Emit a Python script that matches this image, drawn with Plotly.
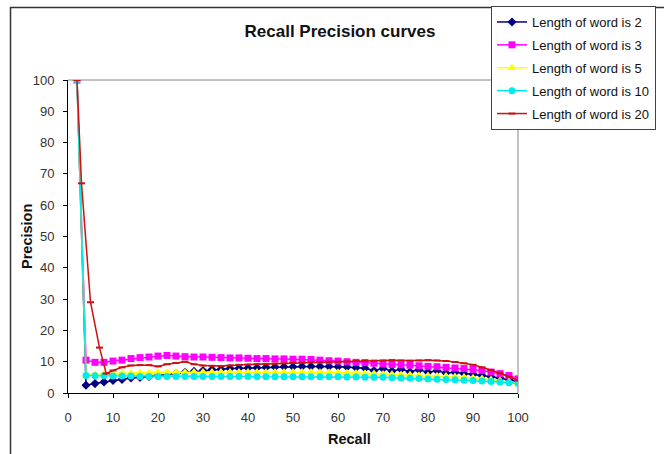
import plotly.graph_objects as go

recall = [2, 4, 6, 8, 10, 12, 14, 16, 18, 20, 22, 24, 26, 28, 30, 32, 34, 36, 38, 40,
          42, 44, 46, 48, 50, 52, 54, 56, 58, 60, 62, 64, 66, 68, 70, 72, 74, 76, 78, 80,
          82, 84, 86, 88, 90, 92, 94, 96, 98, 100]

prec_len2 = [100, 2.5, 3.0, 3.5, 4.0, 4.3, 4.8, 5.0, 5.3, 5.6, 6.0, 6.3, 6.6, 6.9, 7.2, 7.5, 7.6, 7.8, 7.9, 8.0,
             8.1, 8.2, 8.3, 8.4, 8.4, 8.5, 8.5, 8.5, 8.5, 8.4, 8.3, 8.1, 7.9, 7.2, 7.8, 7.0, 7.6, 6.8, 7.4, 6.6,
             7.1, 6.4, 6.6, 6.2, 6.0, 5.6, 5.2, 4.8, 4.2, 3.5]

prec_len3 = [100, 10.5, 9.8, 9.8, 10.2, 10.5, 11.0, 11.3, 11.5, 11.8, 12.0, 11.8, 11.6, 11.5, 11.5, 11.4, 11.3, 11.2, 11.2, 11.1,
             11.0, 11.0, 10.9, 10.9, 10.8, 10.8, 10.7, 10.5, 10.3, 10.2, 10.0, 9.8, 9.7, 9.5, 9.3, 9.1, 9.0, 8.9, 8.7, 8.5,
             8.4, 8.2, 8.0, 7.8, 7.5, 7.2, 6.7, 6.2, 5.6, 4.5]

prec_len5 = [100, 5.8, 6.0, 6.2, 6.2, 6.3, 6.4, 6.5, 6.5, 6.6, 6.6, 6.6, 6.6, 6.7, 6.7, 6.7, 6.7, 6.7, 6.7, 6.7,
             6.7, 6.7, 6.7, 6.7, 6.7, 6.7, 6.7, 6.6, 6.6, 6.6, 6.5, 6.4, 6.3, 6.2, 6.1, 6.0, 5.9, 5.8, 5.7, 5.6,
             5.5, 5.4, 5.3, 5.1, 4.9, 4.6, 4.3, 4.0, 3.6, 3.2]

prec_len10 = [100, 5.6, 5.5, 5.5, 5.4, 5.4, 5.4, 5.3, 5.3, 5.3, 5.3, 5.3, 5.3, 5.3, 5.3, 5.3, 5.3, 5.3, 5.3, 5.3,
              5.2, 5.2, 5.2, 5.2, 5.2, 5.2, 5.2, 5.2, 5.2, 5.2, 5.1, 5.1, 5.0, 5.0, 5.0, 4.9, 4.8, 4.7, 4.6, 4.5,
              4.4, 4.3, 4.2, 4.1, 4.0, 3.8, 3.7, 3.5, 3.3, 3.1]

recall_len20 = [2, 3, 5, 7, 8.5, 10, 12, 14, 16, 18, 20, 22, 24, 26, 28, 30, 32, 34, 36, 38, 40,
                42, 44, 46, 48, 50, 52, 54, 56, 58, 60, 62, 64, 66, 68, 70, 72, 74, 76, 78, 80,
                82, 84, 86, 88, 90, 92, 94, 96, 98, 100]
prec_len20 = [100, 67, 29, 14.5, 6.2, 7.2, 8.2, 8.8, 8.9, 8.9, 8.5, 9.2, 9.6, 10.0, 9.2, 8.8, 8.7, 8.6, 8.8, 9.0, 9.1,
              9.2, 9.3, 9.4, 9.5, 9.6, 9.7, 9.8, 9.9, 10.0, 10.0, 10.1, 10.2, 10.3, 10.3, 10.4, 10.5, 10.4, 10.3, 10.4, 10.5,
              10.4, 10.2, 9.9, 9.5, 9.0, 8.2, 7.3, 6.3, 5.2, 4.0]

series_names = ["Length of word is 2", "Length of word is 3", "Length of word is 5",
                "Length of word is 10", "Length of word is 20"]
x_ticks = [0, 10, 20, 30, 40, 50, 60, 70, 80, 90, 100]
y_ticks = [0, 10, 20, 30, 40, 50, 60, 70, 80, 90, 100]

FONT = "Arial, Liberation Sans"

fig = go.Figure()
fig.add_trace(go.Scatter(x=recall, y=prec_len2, name=series_names[0], mode="lines+markers",
                         legendgroup="g1",
                         line=dict(color="#000080", width=1.5),
                         marker=dict(symbol="diamond", size=7, color="#000080")))
fig.add_trace(go.Scatter(x=recall, y=prec_len3, name=series_names[1], mode="lines+markers",
                         legendgroup="g2",
                         line=dict(color="#FF00FF", width=1.5),
                         marker=dict(symbol="square", size=7, color="#FF00FF")))
fig.add_trace(go.Scatter(x=recall, y=prec_len5, name=series_names[2], mode="lines+markers",
                         legendgroup="g3",
                         line=dict(color="#FFFF00", width=1.5),
                         marker=dict(symbol="triangle-up", size=8, color="#FFFF00")))
fig.add_trace(go.Scatter(x=recall, y=prec_len10, name=series_names[3], mode="lines+markers",
                         legendgroup="g4",
                         line=dict(color="#00EBEB", width=1.5),
                         marker=dict(symbol="circle", size=7, color="#00EBEB")))
fig.add_trace(go.Scatter(x=recall_len20, y=prec_len20, name=series_names[4], mode="lines+markers",
                         legendgroup="g5",
                         line=dict(color="#CC1111", width=1.5),
                         marker=dict(symbol="line-ew", size=5, color="#CC1111",
                                     line=dict(color="#CC1111", width=2))))

axis_common = dict(showgrid=False, zeroline=False, showline=True, linecolor="#000000",
                   linewidth=1, ticks="outside", ticklen=4, tickcolor="#000000", automargin=False,
                   tickfont=dict(family=FONT, size=13, color="#333333"))

fig.update_layout(
    width=664, height=454,
    margin=dict(l=68, r=146, t=80, b=61, autoexpand=False),
    paper_bgcolor="white", plot_bgcolor="white",
    font=dict(family=FONT, color="#000000"),
    title=dict(text="<b>Recall Precision curves</b>", x=(340 - 68) / 450, xref="paper", xanchor="center",
               yref="container", y=1 - 31 / 454, yanchor="middle", font=dict(size=17, color="#111111")),
    xaxis=dict(range=[0, 100], tickvals=x_ticks, ticklabelstandoff=8, **axis_common),
    yaxis=dict(range=[0, 100], tickvals=y_ticks, ticklabelstandoff=6, **axis_common),
    legend=dict(x=(491 - 68) / 450, y=(393 - 6) / 313, xanchor="left", yanchor="top", bgcolor="white",
                bordercolor="#444444", borderwidth=1, font=dict(size=13, color="#111111"),
                tracegroupgap=3, itemwidth=30),
    showlegend=True,
    annotations=[
        dict(text="<b>Recall</b>", xref="paper", yref="paper", x=(349 - 68) / 450, y=(393 - 439) / 313,
             xanchor="center", yanchor="middle", showarrow=False, font=dict(size=14.5, color="#111111")),
        dict(text="<b>Precision</b>", xref="paper", yref="paper", x=(27 - 68) / 450, y=(393 - 237) / 313,
             xanchor="center", yanchor="middle", textangle=-90, showarrow=False,
             font=dict(size=14.5, color="#111111")),
    ],
    shapes=[
        dict(type="line", xref="paper", yref="paper", x0=0, x1=1, y0=1, y1=1,
             line=dict(color="#888888", width=1), layer="below"),
        dict(type="line", xref="paper", yref="paper", x0=1, x1=1, y0=0, y1=1,
             line=dict(color="#888888", width=1), layer="below"),
        dict(type="rect", xref="paper", yref="paper",
             x0=(10.5 - 68) / 450, x1=(700 - 68) / 450,
             y0=(393 - 480) / 313, y1=(393 - 7.5) / 313,
             line=dict(color="#333333", width=1.5)),
    ],
)

fig.write_html("out.html", config={"displayModeBar": False},
               post_script="document.body.style.margin='0';")
